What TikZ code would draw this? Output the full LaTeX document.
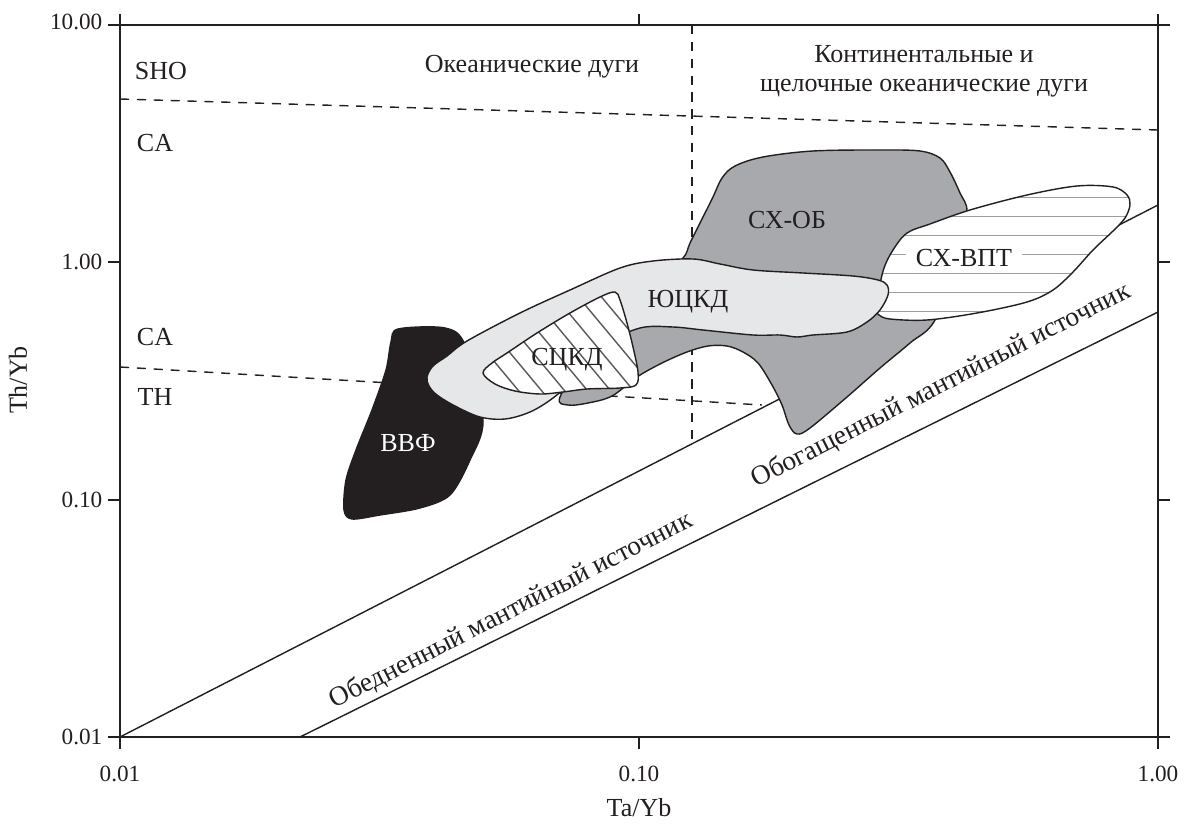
\documentclass[tikz,border=0pt]{standalone}
\usepackage{fontspec}
\setmainfont{Liberation Serif}
\usetikzlibrary{positioning}
\definecolor{ink}{HTML}{231F20}
\definecolor{obfill}{HTML}{A7A9AC}
\definecolor{yufill}{HTML}{E6E7E8}
\definecolor{hatch}{HTML}{5A5A5A}
\definecolor{rule}{HTML}{9C9C9C}

% outlines of the fields, in pixel units
\newcommand{\sxobline}{plot[smooth cycle, tension=.55] coordinates {
  (683,258) (690,243) (700,223) (713,197) (722,178) (735,166) (763,157)
  (813,151) (880,150) (920,151) (940,158) (950,172) (960,193) (967,212)
  (958,255) (935,320) (910,343) (880,368) (847,397) (810,428) (797,434)
  (789,425) (782,405) (772,385) (758,363) (743,352) (727,346) (708,346)
  (687,352) (662,363) (637,377) (612,396) (588,403) (568,405) (560,397)
  (590,350) (630,300) (660,273)}}
\newcommand{\sxvptline}{plot[smooth cycle, tension=.55] coordinates {
  (877,310) (879,290) (884,268) (893,250) (907,233) (930,224) (970,210)
  (1027,195) (1077,186) (1113,187) (1127,195) (1130,205) (1125,218)
  (1113,231) (1093,250) (1073,272) (1053,290) (1027,302) (977,313)
  (927,320) (890,319) (879,315)}}
\newcommand{\vvfline}{plot[smooth cycle, tension=.5] coordinates {
  (398,329) (445,328) (465,345) (483,420) (470,460) (450,495) (420,508)
  (380,515) (352,519) (344,510) (346,480) (356,450) (372,410) (386,370)
  (391,342)}}
\newcommand{\yuckdline}{plot[smooth cycle, tension=.55] coordinates {
  (427,377) (433,366) (447,356) (467,341) (520,313) (570,290) (620,268)
  (653,261) (693,259) (720,264) (753,270) (803,273) (853,276) (878,280)
  (887,285) (888,295) (880,310) (867,322) (847,332) (813,335) (797,337)
  (780,335) (753,335) (703,330) (673,327) (640,328) (605,345) (575,378)
  (553,398) (530,412) (505,419) (480,417) (455,406) (437,395) (429,386)}}
\newcommand{\sckdline}{plot[smooth cycle, tension=.55] coordinates {
  (483,373) (492,363) (507,353) (537,333) (570,313) (600,297) (615,292)
  (620,300) (627,323) (633,347) (638,372) (636,385) (620,388) (587,389)
  (563,392) (540,394) (515,391) (495,384)}}

\begin{document}
\begin{tikzpicture}[x=0.025cm, y=-0.025cm,
  axis/.style={draw=ink, line width=1.4pt},
  guide/.style={draw=ink, line width=1pt, dash pattern=on 6.5pt off 5.5pt},
  trend/.style={draw=ink, line width=1pt},
  field/.style={draw=ink, line width=1pt},
  label/.style={font=\fontsize{18.5}{20.5}\selectfont, text=ink, inner sep=1pt},
  source/.style={font=\fontsize{19.5}{22}\selectfont, text=ink, inner sep=1pt, rotate=27},
  ticklabel/.style={font=\fontsize{16.5}{20}\selectfont, text=ink, inner sep=1pt}
]
  \useasboundingbox (0,0) rectangle (1184,827);

  % dashed field boundaries
  \draw[guide] (120,99) -- (1158,130);
  \draw[guide] (120,367) -- (762,405);
  \draw[guide] (692,25) -- (692,444);

  % mantle array
  \draw[trend] (120,737) -- (1158,205);
  \draw[trend] (300,737) -- (1158,312);

  % fields
  \draw[field, fill=obfill] \sxobline;
  \fill[white] \sxvptline;
  \begin{scope}
    \clip \sxvptline;
    \foreach \y in {197,216,...,311}
      \draw[rule, line width=.7pt] (860,\y) -- (1140,\y);
  \end{scope}
  \draw[field] \sxvptline;
  \draw[field, fill=ink] \vvfline;
  \draw[field, fill=yufill] \yuckdline;
  \fill[white] \sckdline;
  \begin{scope}
    \clip \sckdline;
    \foreach \i in {0,...,10}
      \draw[hatch, line width=1pt] ({395+23*\i},270) -- ++(130,156);
  \end{scope}
  \draw[field] \sckdline;

  % frame and ticks
  \draw[axis] (120,25) rectangle (1158,737);
  \foreach \t in {25,262.33,499.67,737} {
    \draw[axis] (108,\t) -- (120,\t);
    \draw[axis] (1158,\t) -- (1170,\t);
  }
  \foreach \t in {120,639,1158} {
    \draw[axis] (\t,14) -- (\t,25);
    \draw[axis] (\t,737) -- (\t,749);
  }

  % tick labels
  \node[ticklabel, anchor=east] (y10) at (104,22) {10.00};
  \node[ticklabel, anchor=east] (y1) at (104,262) {1.00};
  \node[ticklabel, anchor=east] (y01) at (104,500) {0.10};
  \node[ticklabel, anchor=east] (y001) at (104,737) {0.01};
  \node[ticklabel] (x001) at (120,774) {0.01};
  \node[ticklabel] (x01) at (639,774) {0.10};
  \node[ticklabel] (x1) at (1158,774) {1.00};
  \node[label, rotate=90] (ytitle) at (18,380) {Th/Yb};
  \node[label] (xtitle) at (639,808) {Ta/Yb};

  % series and settings
  \node[label] (sho) at (161,71) {SHO};
  \node[label] (caup) at (155,143) {CA};
  \node[label] (calow) at (155,337) {CA};
  \node[label] (th) at (155,397) {TH};
  \node[label] (ocean) at (532,67) {Океанические дуги};
  \node[label, align=center] (contin) at (924,71)
    {Континентальные и\\щелочные океанические дуги};
  \node[source] (depleted) at (511,611) {Обедненный мантийный источник};
  \node[source] (enriched) at (941,386) {Обогащенный мантийный источник};

  % field names
  \node[label, text=white] (vvf) at (408,443) {ВВФ};
  \node[label] (sckd) at (567,360) {СЦКД};
  \node[label] (yuckd) at (688,302) {ЮЦКД};
  \node[label] (sxob) at (787,220) {СХ-ОБ};
  \node[label, fill=white, inner xsep=7pt, inner ysep=3pt] (sxvpt) at (964,258) {СХ-ВПТ};
\end{tikzpicture}
\end{document}
